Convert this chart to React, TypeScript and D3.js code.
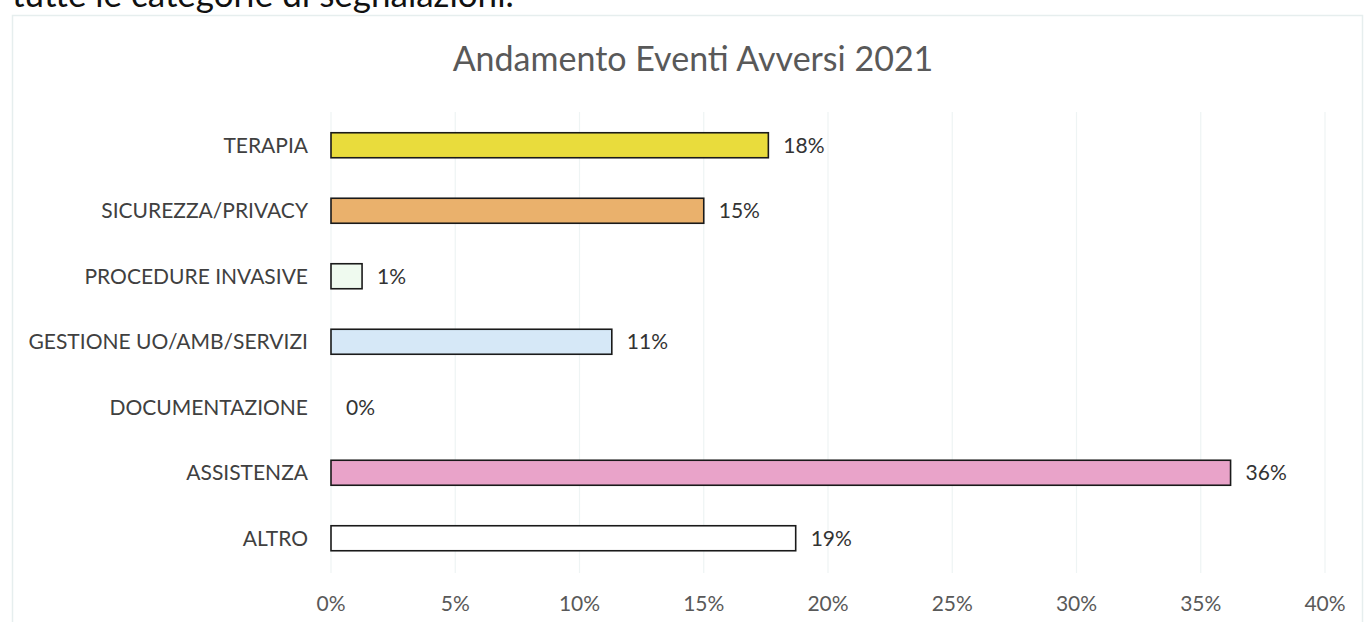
import React from "react";
import * as d3 from "d3";

const categories = [
  "TERAPIA",
  "SICUREZZA/PRIVACY",
  "PROCEDURE INVASIVE",
  "GESTIONE UO/AMB/SERVIZI",
  "DOCUMENTAZIONE",
  "ASSISTENZA",
  "ALTRO",
];
const values = [0.176, 0.15, 0.0125, 0.113, 0, 0.362, 0.187];
const barColors = ["#e9dc3c", "#eab16c", "#effaef", "#d6e8f7", "#ffffff", "#e9a3c9", "#ffffff"];
const xTicks = [0, 0.05, 0.1, 0.15, 0.2, 0.25, 0.3, 0.35, 0.4];
const title = "Andamento Eventi Avversi 2021";
const introText = "tutte le categorie di segnalazioni.";

const W = 1367;
const H = 622;
const FONT = "Lato, 'Open Sans', sans-serif";

export default function App() {
  const x = d3.scaleLinear().domain([0, 0.4]).range([331, 1325]);
  const y = d3.scalePoint<string>().domain(categories).range([112.5, 571]).padding(0.5);
  const barH = 25;
  const pct = d3.format(".0%");

  return (
    <svg
      width={W}
      height={H}
      style={{ position: "absolute", left: 0, top: 0, background: "#fff" }}
      fontFamily={FONT}
    >
      <text x={12} y={7} fontSize={35} fill="#111">
        {introText}
      </text>
      <rect x={12.5} y={15.5} width={1350} height={640} fill="none" stroke="#e6eeee" strokeWidth={1.5} />
      <text x={693} y={71} fontSize={34} fill="#595959" textAnchor="middle">
        {title}
      </text>
      {xTicks.map((t) => (
        <line key={"g" + t} x1={x(t)} x2={x(t)} y1={112} y2={573} stroke="#eef4f4" strokeWidth={1.2} />
      ))}
      {categories.map((c, i) => (
        <g key={c}>
          <text
            x={308}
            y={y(c)!}
            dy="0.35em"
            fontSize={21}
            fill="#404040"
            textAnchor="end"
          >
            {c}
          </text>
          {values[i] > 0 && (
            <rect
              x={x(0)}
              y={y(c)! - barH / 2}
              width={x(values[i]) - x(0)}
              height={barH}
              fill={barColors[i]}
              stroke="#1a1a1a"
              strokeWidth={1.6}
            />
          )}
          <text
            x={x(values[i]) + 15}
            y={y(c)!}
            dy="0.35em"
            fontSize={21}
            fill="#333"
          >
            {pct(values[i])}
          </text>
        </g>
      ))}
      {xTicks.map((t) => (
        <text key={"t" + t} x={x(t)} y={604} dy="0.35em" fontSize={21} fill="#595959" textAnchor="middle">
          {pct(t)}
        </text>
      ))}
    </svg>
  );
}
